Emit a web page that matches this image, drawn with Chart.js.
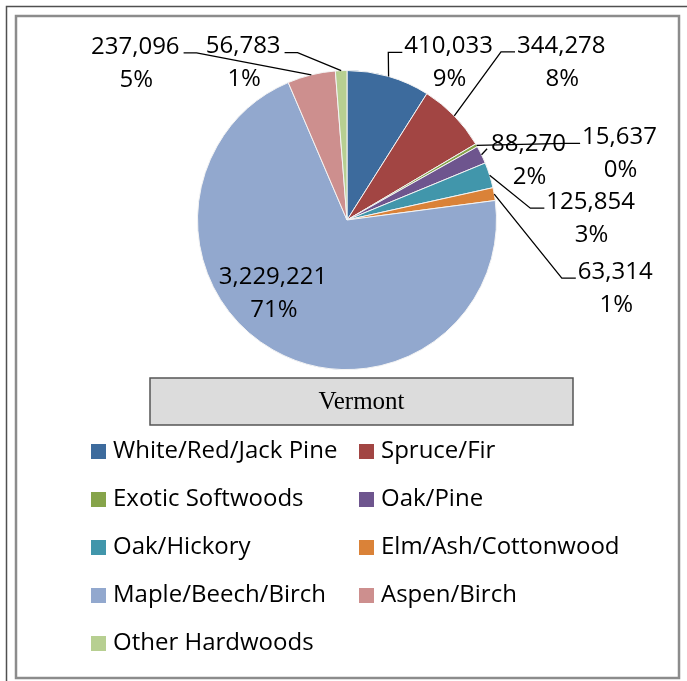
<!DOCTYPE html>
<html>
<head>
<meta charset="utf-8">
<script src="https://cdn.jsdelivr.net/npm/chart.js@4"></script>
<style>
  html, body { margin: 0; padding: 0; background: #fff; }
  #vtChart { display: block; }
</style>
</head>
<body>
<canvas id="vtChart" width="687" height="681"></canvas>
<script>
// forest type groups, Vermont
const categories = [
    'White/Red/Jack Pine', 'Spruce/Fir', 'Exotic Softwoods', 'Oak/Pine',
    'Oak/Hickory', 'Elm/Ash/Cottonwood', 'Maple/Beech/Birch', 'Aspen/Birch',
    'Other Hardwoods'
];
const acres = [410033, 344278, 15637, 88270, 125854, 63314, 3229221, 237096, 56783];
const sliceColors = [
    '#3d6b9d', '#a24543', '#86a44a', '#6e558e', '#4196ab',
    '#da8238', '#92a8ce', '#cd8f8e', '#b7cf91'
];
const chartTitle = 'Vermont';

// label placement relative to slice edge (dx, dy), and how the leader is drawn
const labelOffsets = [[60, -30], [107, -70], [143, -8], [47, -11], [101, 27], [121, 78], [0, -73], [-176, -28], [-98, -24]];
const leaderKind = ['right', 'right', 'right', 'short', 'right', 'right', null, 'left', 'left'];

const LABEL_FONT = '24px "Open Sans"';
const LEGEND_FONT = '24px "Open Sans"';

const total = acres.reduce((a, b) => a + b, 0);

const framePlugin = {
    id: 'frame',
    beforeDraw(chart) {
        const ctx = chart.ctx;
        ctx.save();
        ctx.fillStyle = '#fff';
        ctx.fillRect(0, 0, chart.width, chart.height);
        ctx.strokeStyle = '#505050';
        ctx.lineWidth = 1.5;
        ctx.beginPath();
        ctx.moveTo(6.5, chart.height);
        ctx.lineTo(6.5, 6.5);
        ctx.lineTo(chart.width, 6.5);
        ctx.stroke();
        ctx.strokeStyle = '#8c8c8c';
        ctx.lineWidth = 2.5;
        ctx.strokeRect(16, 16, 663, 662);
        ctx.restore();
    }
};

const labelPlugin = {
    id: 'sliceLabels',
    afterDatasetsDraw(chart) {
        const ctx = chart.ctx;
        const arcs = chart.getDatasetMeta(0).data;
        ctx.save();
        ctx.font = LABEL_FONT;
        ctx.fillStyle = '#000';
        ctx.strokeStyle = '#000';
        ctx.lineWidth = 1.3;
        ctx.textAlign = 'center';
        ctx.textBaseline = 'middle';
        arcs.forEach((arc, i) => {
            const p = arc.getProps(['x', 'y', 'startAngle', 'endAngle', 'outerRadius'], true);
            const mid = (p.startAngle + p.endAngle) / 2;
            const ax = p.x + Math.cos(mid) * p.outerRadius;
            const ay = p.y + Math.sin(mid) * p.outerRadius;
            const cx = ax + labelOffsets[i][0];
            const cy = ay + labelOffsets[i][1];
            const valueText = acres[i].toLocaleString('en-US');
            const pctText = Math.round(acres[i] / total * 100) + '%';
            const w = ctx.measureText(valueText).width;
            const lineY = cy + 6;

            const kind = leaderKind[i];
            if (kind) {
                ctx.beginPath();
                ctx.moveTo(ax, ay);
                if (kind === 'right') {
                    const left = cx - w / 2;
                    ctx.lineTo(left - 16, lineY);
                    ctx.lineTo(left - 2, lineY);
                } else if (kind === 'left') {
                    const right = cx + w / 2;
                    ctx.lineTo(right + 17, lineY);
                    ctx.lineTo(right + 4, lineY);
                } else {
                    const left = cx - w / 2;
                    ctx.lineTo(left - 4, cy + 5);
                }
                ctx.stroke();
            }
            ctx.fillText(valueText, cx, cy);
            ctx.fillText(pctText, cx + 1, cy + 33);
        });
        ctx.restore();
    }
};

const titleLegendPlugin = {
    id: 'titleLegend',
    afterDraw(chart) {
        const ctx = chart.ctx;
        ctx.save();
        // title box below the pie
        ctx.fillStyle = '#dcdcdc';
        ctx.fillRect(150, 378, 423, 47);
        ctx.strokeStyle = '#555';
        ctx.lineWidth = 1.5;
        ctx.strokeRect(150, 378, 423, 47);
        ctx.fillStyle = '#000';
        ctx.font = '25px "Liberation Serif"';
        ctx.textAlign = 'center';
        ctx.textBaseline = 'middle';
        ctx.fillText(chartTitle, 361.5, 402);

        // legend in two columns
        ctx.font = LEGEND_FONT;
        ctx.textAlign = 'left';
        const colX = [91, 359];
        chart.data.labels.forEach((label, i) => {
            const col = i % 2;
            const row = Math.floor(i / 2);
            const top = 444 + row * 48;
            ctx.fillStyle = sliceColors[i];
            ctx.fillRect(colX[col], top, 15, 15);
            ctx.fillStyle = '#000';
            ctx.fillText(label, colX[col] + 22, top + 7);
        });
        ctx.restore();
    }
};

new Chart(document.getElementById('vtChart'), {
    type: 'pie',
    data: {
        labels: categories,
        datasets: [{
            data: acres,
            backgroundColor: sliceColors,
            borderColor: '#f4f4f4',
            borderWidth: 1
        }]
    },
    options: {
        responsive: false,
        animation: false,
        layout: {
            padding: { left: 197, right: 190, top: 70, bottom: 311 }
        },
        plugins: {
            legend: { display: false },
            tooltip: { enabled: false },
            title: { display: false }
        }
    },
    plugins: [framePlugin, labelPlugin, titleLegendPlugin]
});
</script>
</body>
</html>
